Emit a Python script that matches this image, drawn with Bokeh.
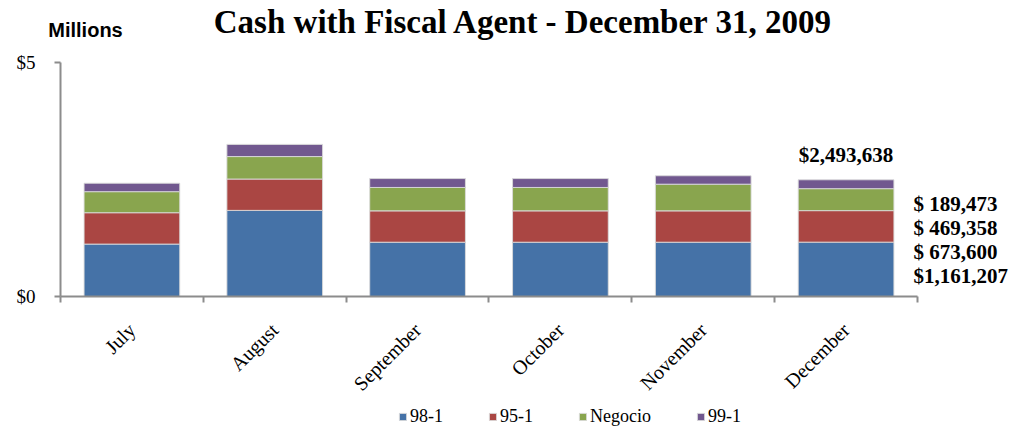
import math
from bokeh.plotting import figure
from bokeh.models import (Range1d, FixedTicker, LinearAxis, Legend, LegendItem, Label,
                          ColumnDataSource)
from bokeh.core.properties import value
from bokeh.embed import file_html
from bokeh.resources import INLINE

months = ["July", "August", "September", "October", "November", "December"]
series_names = ["98-1", "95-1", "Negocio", "99-1"]
s98_1 = [1.12, 1.84, 1.16, 1.16, 1.16, 1.161207]
s95_1 = [0.67, 0.67, 0.67, 0.67, 0.67, 0.6736]
negocio = [0.45, 0.48, 0.50, 0.50, 0.57, 0.469358]
s99_1 = [0.18, 0.26, 0.19, 0.19, 0.18, 0.189473]
dec_labels = ["$1,161,207", "$ 673,600", "$ 469,358", "$ 189,473"]
dec_total_label = "$2,493,638"
y_ticks = [0, 5]
y_tick_labels = ["$0", "$5"]

colors = ["#4572A7", "#AA4643", "#89A54E", "#71588F"]
SERIF = "Liberation Serif"
AXIS_COLOR = "#8C8C8C"

W, H = 1012, 427
PX_X = 142.83   # pixels per category
PX_Y = 46.8     # pixels per million
X0, Y0 = 60, 296  # screen position of the origin
FRAME_LEFT = 10

p = figure(width=W, height=H, output_backend="svg", toolbar_location=None,
           x_range=Range1d(-(X0 - FRAME_LEFT) / PX_X, (W - X0) / PX_X),
           y_range=Range1d(-(H - Y0) / PX_Y, Y0 / PX_Y),
           min_border_left=FRAME_LEFT, min_border_right=0, min_border_top=0, min_border_bottom=0,
           x_axis_type=None, y_axis_type=None)
p.outline_line_color = None
p.xgrid.visible = False
p.ygrid.visible = False

xs = [i + 0.5 for i in range(len(months))]
src = ColumnDataSource(dict(x=xs, s0=s98_1, s1=s95_1, s2=negocio, s3=s99_1))
rs = p.vbar_stack(["s0", "s1", "s2", "s3"], x="x", width=0.67, source=src,
                  fill_color=colors, line_color="#DADADA", line_width=1, line_alpha=0.9)

# y axis (at x = 0); its tick labels are drawn as text below
yax = LinearAxis(ticker=FixedTicker(ticks=y_ticks),
                 major_label_overrides={t: "" for t in y_ticks},
                 fixed_location=0, bounds=(0, 5))
yax.axis_line_color = AXIS_COLOR
yax.axis_line_width = 2
yax.major_tick_line_color = AXIS_COLOR
yax.major_tick_line_width = 2
yax.major_tick_out = 6
yax.major_tick_in = 0
yax.minor_tick_line_color = None
yax.major_label_standoff = 0
yax.major_label_text_font_size = "1px"
p.add_layout(yax, "left")

p.text(x=[0] * len(y_ticks), y=y_ticks, text=y_tick_labels, x_offset=-25,
       text_align="right", text_baseline="middle",
       text_font=value(SERIF), text_font_size="19px", text_color="#000000")

# x axis line at y = 0 with ticks at category boundaries pointing down
bticks = list(range(len(months) + 1))
xax = LinearAxis(ticker=FixedTicker(ticks=bticks),
                 major_label_overrides={t: "" for t in bticks},
                 bounds=(0, len(months)), fixed_location=0)
xax.axis_line_color = AXIS_COLOR
xax.axis_line_width = 2
xax.major_tick_line_color = AXIS_COLOR
xax.major_tick_line_width = 2
xax.major_tick_out = 0
xax.major_tick_in = 6
xax.minor_tick_line_color = None
xax.major_label_text_font_size = "1px"
xax.major_label_standoff = 0
p.add_layout(xax, "above")

# month labels, rotated 45 degrees, ending under each category centre
p.text(x=xs, y=[0] * len(xs), text=months, angle=math.pi / 4,
       text_align="right", text_baseline="middle", x_offset=0, y_offset=30,
       text_font=value(SERIF), text_font_size="20px", text_color="#000000")

# Title and "Millions"
p.add_layout(Label(x=3.242, y=5.855, text="Cash with Fiscal Agent - December 31, 2009",
                   text_font=SERIF, text_font_style="bold", text_font_size="33px",
                   text_align="center", text_baseline="middle", text_color="#000000"))
p.add_layout(Label(x=0.175, y=5.705, text="Millions",
                   text_font="Liberation Sans", text_font_style="bold", text_font_size="20px",
                   text_align="center", text_baseline="middle", text_color="#000000"))

# December labels
total = s98_1[-1] + s95_1[-1] + negocio[-1] + s99_1[-1]
p.add_layout(Label(x=5.5, y=total, y_offset=25, text=dec_total_label,
                   text_font=SERIF, text_font_style="bold", text_font_size="21px",
                   text_align="center", text_baseline="middle", text_color="#000000"))
for i, t in enumerate(dec_labels):
    p.add_layout(Label(x=5.972, y=0, y_offset=21 + i * 23.8, text=t,
                       text_font=SERIF, text_font_style="bold", text_font_size="21px",
                       text_align="left", text_baseline="middle", text_color="#000000"))

legend = Legend(items=[LegendItem(label=n, renderers=[r]) for n, r in zip(series_names, rs)],
                orientation="horizontal", location=(388, 0))
legend.label_text_font = SERIF
legend.label_text_font_size = "18px"
legend.label_text_color = "#000000"
legend.glyph_width = 9
legend.glyph_height = 9
legend.label_standoff = 3
legend.spacing = 45
legend.padding = 0
legend.margin = 0
legend.border_line_color = None
legend.background_fill_alpha = 0
p.add_layout(legend, "center")

open("out.html", "w").write(file_html(p, INLINE))
